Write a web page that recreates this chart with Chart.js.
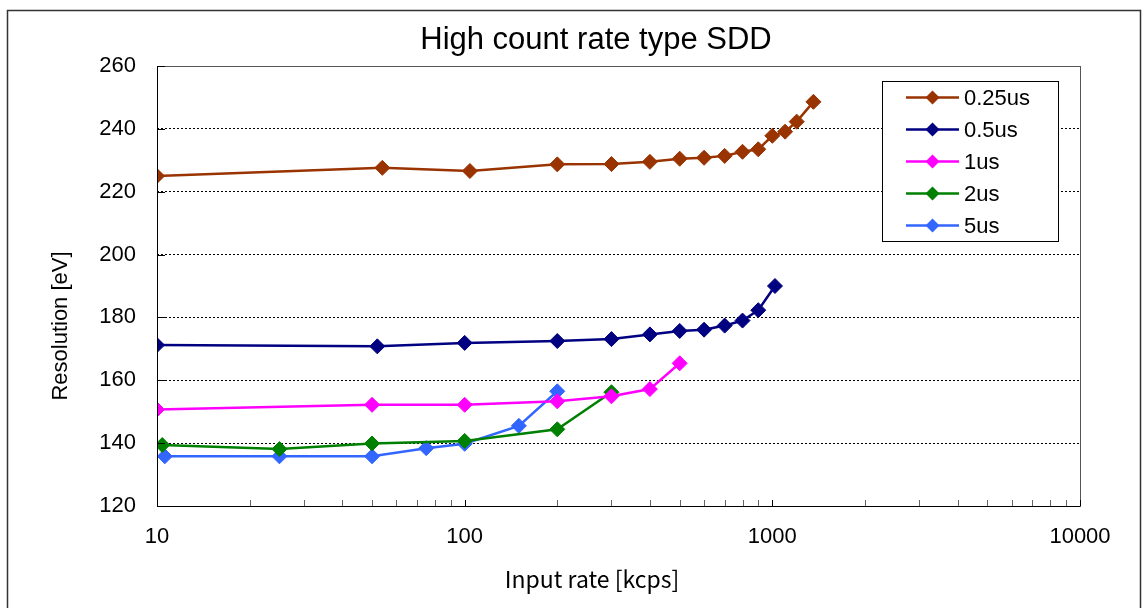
<!DOCTYPE html>
<html>
<head>
<meta charset="utf-8">
<script src="https://cdn.jsdelivr.net/npm/chart.js@4"></script>
<style>
  body { margin: 0; background: #fff; }
  #wrap { position: relative; width: 1148px; height: 608px; }
</style>
</head>
<body>
<div id="wrap"><canvas id="myChart"></canvas></div>
<script>
/* data */
var seriesNames = ['0.25us', '0.5us', '1us', '2us', '5us'];
var seriesColors = ['#993300', '#000080', '#FF00FF', '#008000', '#3366FF'];

var rate025 = [10, 54, 104, 200, 300, 400, 500, 600, 700, 800, 900, 1000, 1100, 1200, 1360];
var res025 = [225.0, 227.6, 226.6, 228.7, 228.8, 229.5, 230.5, 230.8, 231.4, 232.7, 233.5, 237.8, 239.1, 242.3, 248.6];

var rate05 = [10, 52, 100, 200, 300, 400, 500, 600, 700, 800, 900, 1020];
var res05 = [171.2, 170.8, 171.9, 172.5, 173.1, 174.6, 175.7, 176.1, 177.4, 179.0, 182.3, 190.0];

var rate1 = [10, 50, 100, 200, 300, 400, 500];
var res1 = [150.7, 152.2, 152.2, 153.3, 154.9, 157.2, 165.4];

var rate2 = [10.4, 25, 50, 100, 200, 300];
var res2 = [139.4, 138.1, 139.9, 140.7, 144.4, 156.2];

var rate5 = [10.6, 25, 50, 75, 100, 150, 200];
var res5 = [135.8, 135.8, 135.8, 138.4, 139.8, 145.5, 156.5];

var xTickLabels = [10, 100, 1000, 10000];
var yTickLabels = [120, 140, 160, 180, 200, 220, 240, 260];

var FONT = '"Liberation Sans", Arial, sans-serif';

/* zip x and y arrays into points */
function toPoints(xs, ys) {
  return xs.map(function(x, i) { return {x: x, y: ys[i]}; });
}

var allRates = [rate025, rate05, rate1, rate2, rate5];
var allRes = [res025, res05, res1, res2, res5];

var datasets = seriesNames.map(function(name, i) {
  return {
    label: name,
    data: toPoints(allRates[i], allRes[i]),
    borderColor: seriesColors[i],
    backgroundColor: seriesColors[i],
    borderWidth: 2.5,
    pointStyle: 'rectRot',
    pointRadius: 7.5,
    pointBorderWidth: 1,
    tension: 0
  };
});

/* frame, inward ticks, titles and legend box */
var decorPlugin = {
  id: 'decor',
  beforeDraw: function(chart) {
    var ctx = chart.ctx;
    ctx.save();
    ctx.fillStyle = '#fff';
    ctx.fillRect(0, 0, chart.width, chart.height);
    ctx.restore();
  },
  afterDraw: function(chart) {
    var ctx = chart.ctx;
    var area = chart.chartArea;
    var xs = chart.scales.x;
    var ys = chart.scales.y;
    ctx.save();

    // outer border
    ctx.strokeStyle = '#333';
    ctx.lineWidth = 1.5;
    ctx.beginPath();
    ctx.moveTo(7.5, 612);
    ctx.lineTo(7.5, 10.5);
    ctx.lineTo(1140.5, 10.5);
    ctx.lineTo(1140.5, 612);
    ctx.stroke();

    // plot frame
    ctx.lineWidth = 1;
    ctx.strokeStyle = '#555';
    ctx.strokeRect(area.left + 0.5, area.top + 0.5, area.right - area.left, area.bottom - area.top);
    ctx.strokeStyle = '#000';
    ctx.beginPath();
    ctx.moveTo(area.left + 0.5, area.top);
    ctx.lineTo(area.left + 0.5, area.bottom + 0.5);
    ctx.lineTo(area.right, area.bottom + 0.5);
    ctx.stroke();

    // y ticks inside
    yTickLabels.forEach(function(v) {
      var py = Math.round(ys.getPixelForValue(v)) + 0.5;
      ctx.beginPath();
      ctx.moveTo(area.left, py);
      ctx.lineTo(area.left + 8, py);
      ctx.stroke();
    });

    // x ticks inside (major + minor)
    for (var dec = 10; dec < 10000; dec *= 10) {
      for (var m = 1; m <= 10; m++) {
        var px = Math.round(xs.getPixelForValue(dec * m)) + 0.5;
        ctx.strokeStyle = (m === 1 || m === 10) ? '#000' : '#666';
        ctx.beginPath();
        ctx.moveTo(px, area.bottom);
        ctx.lineTo(px, area.bottom - 6);
        ctx.stroke();
      }
    }

    // title
    ctx.fillStyle = '#000';
    ctx.textAlign = 'center';
    ctx.textBaseline = 'middle';
    ctx.font = '31px ' + FONT;
    ctx.fillText('High count rate type SDD', 596, 40);

    // axis titles
    ctx.font = '23px "Noto Sans CJK JP", ' + FONT;
    ctx.fillText('Input rate [kcps]', 592, 579);
    ctx.save();
    ctx.translate(61, 326);
    ctx.rotate(-Math.PI / 2);
    ctx.font = '22px ' + FONT;
    ctx.fillText('Resolution [eV]', 0, 0);
    ctx.restore();

    // legend box
    ctx.fillStyle = '#fff';
    ctx.fillRect(883, 82, 175, 160);
    ctx.strokeStyle = '#000';
    ctx.lineWidth = 1;
    ctx.strokeRect(882.5, 81.5, 176, 160);
    chart.data.datasets.forEach(function(ds, i) {
      var cy = 97.5 + i * 32;
      ctx.strokeStyle = ds.borderColor;
      ctx.lineWidth = 2.5;
      ctx.beginPath();
      ctx.moveTo(906, cy);
      ctx.lineTo(959, cy);
      ctx.stroke();
      ctx.fillStyle = ds.backgroundColor;
      ctx.beginPath();
      ctx.moveTo(932.5, cy - 7);
      ctx.lineTo(939.5, cy);
      ctx.lineTo(932.5, cy + 7);
      ctx.lineTo(925.5, cy);
      ctx.closePath();
      ctx.fill();
      ctx.fillStyle = '#000';
      ctx.textAlign = 'left';
      ctx.font = '22px ' + FONT;
      ctx.fillText(ds.label, 964, cy + 1);
    });

    ctx.restore();
  }
};

var config = {
  type: 'line',
  data: { datasets: datasets },
  options: {
    responsive: true,
    maintainAspectRatio: false,
    animation: false,
    layout: { padding: { left: 0, top: 66, right: 68, bottom: 0 } },
    plugins: {
      legend: { display: false },
      title: { display: false },
      tooltip: { enabled: false }
    },
    scales: {
      x: {
        type: 'logarithmic',
        min: 10,
        max: 10000,
        afterBuildTicks: function(scale) {
          scale.ticks = xTickLabels.map(function(v) { return {value: v}; });
        },
        afterFit: function(scale) { scale.height = 102; },
        ticks: {
          autoSkip: false,
          maxRotation: 0,
          padding: 18,
          color: '#000',
          font: { family: FONT, size: 22 },
          callback: function(v) { return String(v); }
        },
        grid: { display: false, drawTicks: false },
        border: { display: false }
      },
      y: {
        min: 120,
        max: 260,
        afterBuildTicks: function(scale) {
          scale.ticks = yTickLabels.map(function(v) { return {value: v}; });
        },
        afterFit: function(scale) { scale.width = 157; },
        ticks: {
          padding: 21,
          color: '#000',
          font: { family: FONT, size: 22 }
        },
        grid: { color: '#000', lineWidth: 1, drawTicks: false },
        border: { display: false, dash: [2, 2] }
      }
    }
  },
  plugins: [decorPlugin]
};

window.onload = function() {
  var ctx = document.getElementById('myChart').getContext('2d');
  window.resChart = new Chart(ctx, config);
};
</script>
</body>
</html>
